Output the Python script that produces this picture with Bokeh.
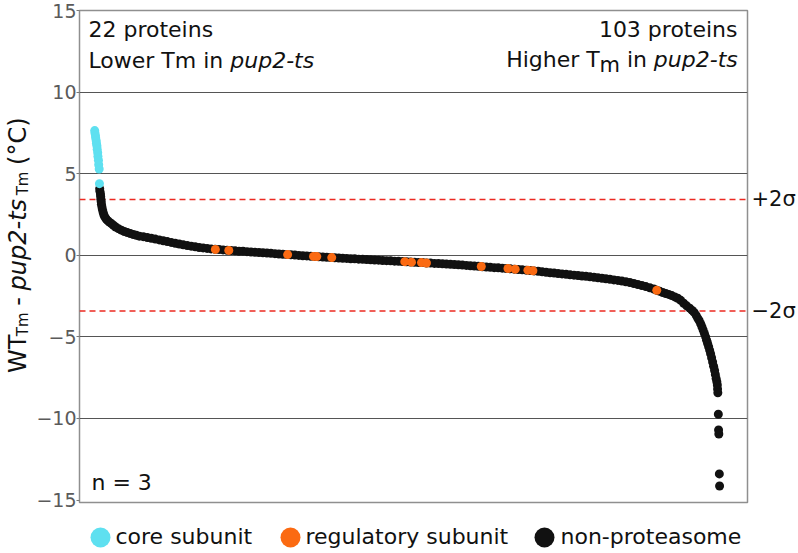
import math
from bokeh.plotting import figure
from bokeh.models import Range1d, FixedTicker, Span, Label, LinearAxis
from bokeh.layouts import column, row
from bokeh.core.properties import value
from bokeh.embed import file_html
from bokeh.resources import INLINE

# ---------------- data (rank of protein, WT Tm - pup2-ts Tm) ----------------
core_rank = [1, 2, 4, 5, 7, 8, 10, 11, 13, 14, 16, 17, 19, 20]
core_dtm = [7.64, 7.50, 7.33, 7.18, 7.02, 6.85, 6.70, 6.50, 6.28, 6.05, 5.82, 5.55, 5.29, 4.39]

reg_rank = [485, 539, 775, 879, 892, 952, 1245, 1272, 1312, 1332, 1552, 1659, 1688, 1739, 1759, 2256]
reg_dtm = [0.36, 0.30, 0.04, -0.07, -0.08, -0.14, -0.39, -0.42, -0.45, -0.47,
           -0.69, -0.81, -0.85, -0.91, -0.95, -2.15]

non_rank_head = [21, 22, 24, 25, 26, 27, 28, 30, 32, 35, 38, 42, 47, 53, 60, 68, 76, 85,
                 96, 108, 120, 132, 144, 156, 168, 180]
non_dtm_head = [4.08, 3.92, 3.76, 3.60, 3.44, 3.28, 3.12, 2.96, 2.80, 2.62, 2.47, 2.34,
                2.22, 2.12, 2.03, 1.94, 1.84, 1.73, 1.63, 1.54, 1.46, 1.39, 1.33, 1.27,
                1.22, 1.17]
non_dtm_mid = [1.14, 1.09, 1.04, 0.99, 0.94, 0.89, 0.84, 0.79, 0.74, 0.69, 0.64, 0.60,
               0.56, 0.52, 0.48, 0.45, 0.42, 0.39, 0.37, 0.35, 0.33, 0.31, 0.29, 0.27,
               0.25, 0.24, 0.22, 0.20, 0.18, 0.17, 0.15, 0.14, 0.12, 0.10, 0.08, 0.06,
               0.04, 0.03, 0.01, -0.01, -0.03, -0.04, -0.06, -0.08, -0.09, -0.11, -0.12,
               -0.14, -0.15, -0.17, -0.18, -0.19, -0.21, -0.22, -0.24, -0.25, -0.26,
               -0.28, -0.29, -0.30, -0.32, -0.33, -0.34, -0.36, -0.37, -0.38, -0.40,
               -0.41, -0.43, -0.44, -0.45, -0.47, -0.48, -0.50, -0.51, -0.52, -0.54,
               -0.55, -0.57, -0.58, -0.60, -0.62, -0.64, -0.66, -0.68, -0.70, -0.72,
               -0.74, -0.76, -0.77, -0.79, -0.81, -0.83, -0.85, -0.87, -0.89, -0.91,
               -0.93, -0.96, -0.98, -1.01, -1.04, -1.07, -1.09, -1.12, -1.14, -1.17,
               -1.19, -1.22, -1.24, -1.27, -1.29, -1.32, -1.35, -1.38, -1.41, -1.44,
               -1.47, -1.51, -1.54, -1.58, -1.62, -1.67, -1.73, -1.79, -1.85, -1.92,
               -1.99, -2.07]
non_rank_mid = [196 + 16 * i for i in range(len(non_dtm_mid))]
non_rank_tail = [2256, 2268, 2280, 2292, 2304, 2316, 2328, 2340, 2352, 2364, 2376, 2388,
                 2398, 2406, 2414, 2420, 2426, 2432, 2437, 2442, 2447, 2452, 2456, 2460,
                 2464, 2468, 2472, 2476, 2480, 2484, 2488, 2491, 2494, 2497, 2499, 2500,
                 2501, 2503, 2504, 2505, 2507, 2508]
non_dtm_tail = [-2.14, -2.21, -2.28, -2.34, -2.40, -2.47, -2.55, -2.63, -2.76, -2.94,
                -3.10, -3.24, -3.38, -3.50, -3.68, -3.85, -4.00, -4.19, -4.38, -4.58,
                -4.79, -5.00, -5.20, -5.40, -5.60, -5.81, -6.03, -6.28, -6.54, -6.80,
                -7.06, -7.30, -7.55, -7.75, -7.95, -8.20, -8.43, -9.74, -10.70, -10.95,
                -13.40, -14.14]
non_rank = non_rank_head + non_rank_mid + non_rank_tail
non_dtm = non_dtm_head + non_dtm_mid + non_dtm_tail

sigma2 = 3.42
y_ticks = [-15, -10, -5, 0, 5, 10, 15]
y_tick_labels = ["\u221215", "\u221210", "\u22125", "0", "5", "10", "15"]
grid_ticks = [-10, -5, 0, 5, 10, 15]
sigma_labels = {sigma2: "+2\u03c3", -sigma2: "\u22122\u03c3"}
legend_names = ["core subunit", "regulatory subunit", "non-proteasome"]

CYAN, ORANGE, BLACK = "#5ee0f0", "#fb6a12", "#111111"
FONT = "DejaVu Sans"
NB = "\u00a0"
BASE_SHIFT = 0.36            # renderer places "alphabetic" text this many em too low

# ---------------- geometry (window pixels) ----------------
TOTW, TOTH = 798, 553
TW = 33                      # width of y-title strip
PH = 513                     # height of main figure
FL, FR, FT, FB = 77, 747, 10, 502
X0, X1 = -60, 2620
Y0, Y1 = -15.15, 15.0


def px2x(wx):
    return X0 + (wx - FL) * (X1 - X0) / (FR - FL)


def px2y(wy):
    return Y1 - (wy - FT) * (Y1 - Y0) / (FB - FT)


ADV = {' ': 0.318, NB: 0.318, '-': 0.361, '0': 0.636, '1': 0.636, '2': 0.636, '3': 0.636,
       'C': 0.698, 'H': 0.752, 'L': 0.557, 'T': 0.611, 'W': 0.989, 'e': 0.615,
       'g': 0.635, 'h': 0.634, 'i': 0.278, 'm': 0.974, 'n': 0.634, 'o': 0.612,
       'p': 0.635, 'r': 0.411, 's': 0.521, 't': 0.392, 'u': 0.634, 'w': 0.818,
       '(': 0.390, ')': 0.390, '\u00b0': 0.500}


def tw(s, size):
    return sum(ADV.get(c, 0.6) for c in s) * size


# ---------------- main plot ----------------
p = figure(width=TOTW - TW, height=PH, x_range=Range1d(X0, X1), y_range=Range1d(Y0, Y1),
           x_axis_location=None, toolbar_location=None, output_backend="svg",
           min_border_left=FL - TW, min_border_right=TOTW - FR, min_border_top=FT,
           min_border_bottom=PH - FB)
p.background_fill_color = "white"
p.border_fill_color = "white"
p.outline_line_color = "#8f8f8f"
p.outline_line_width = 1.5
p.xgrid.visible = False
p.ygrid.ticker = FixedTicker(ticks=grid_ticks)
p.ygrid.grid_line_color = "#555555"
p.ygrid.grid_line_width = 1

ax = p.yaxis[0]
ax.ticker = FixedTicker(ticks=y_ticks)
ax.major_label_overrides = {t: l for t, l in zip(y_ticks, y_tick_labels)}
ax.major_label_text_font = FONT
ax.major_label_text_font_size = "19px"
ax.major_label_text_color = "#5a5a5a"
ax.axis_line_color = None
ax.major_tick_line_color = "#777777"
ax.major_tick_out = 3
ax.major_tick_in = 0
ax.minor_tick_line_color = None
ax.major_label_standoff = 0

rax = LinearAxis(ticker=FixedTicker(ticks=list(sigma_labels.keys())),
                 major_label_overrides=sigma_labels)
rax.major_label_text_font = FONT
rax.major_label_text_font_size = "21px"
rax.major_label_text_color = BLACK
rax.axis_line_color = None
rax.major_tick_line_color = None
rax.minor_tick_line_color = None
rax.major_tick_out = 0
rax.major_tick_in = 0
rax.major_label_standoff = 4
p.add_layout(rax, "right")

for loc in (sigma2, -sigma2):
    p.add_layout(Span(location=loc, dimension="width", line_color="#ec2a22",
                      line_dash="6 4", line_width=1.5, level="underlay"))

p.scatter(non_rank, non_dtm, size=9, fill_color=BLACK, line_color=None)
p.scatter(reg_rank, reg_dtm, size=9, fill_color=ORANGE, line_color=None)
p.scatter(core_rank, core_dtm, size=9, fill_color=CYAN, line_color=None)


def lab(text, wx, wy, size, style="normal", align="left"):
    p.add_layout(Label(x=px2x(wx), y=px2y(wy - BASE_SHIFT * size), text=text, text_font=FONT,
                       text_font_size=f"{size}px", text_font_style=style,
                       text_align=align, text_baseline="alphabetic", text_color=BLACK))


def pieces_h(pieces, wx, wy, right=False):
    total = sum(tw(t, s) for t, s, st, dy in pieces)
    x = wx - total if right else wx
    for t, s, st, dy in pieces:
        lab(t, x, wy + dy, s, st)
        x += tw(t, s)


lab("22 proteins", 86, 37, 22)
pieces_h([("Lower Tm in" + NB, 22, "normal", 0), ("pup2-ts", 22, "italic", 0)], 86, 68)
lab("103 proteins", 737, 37, 22, align="right")
pieces_h([("Higher T", 22, "normal", 0), ("m", 21, "normal", 5),
          (NB + "in" + NB, 22, "normal", 0), ("pup2-ts", 22, "italic", 0)], 737, 67, right=True)
lab("n = 3", 89, 490, 22)

# ---------------- y-axis title strip ----------------
t = figure(width=TW, height=PH, x_range=Range1d(0, TW), y_range=Range1d(0, PH),
           x_axis_location=None, y_axis_location=None, toolbar_location=None,
           output_backend="svg", min_border=0)
t.outline_line_color = None
t.xgrid.visible = False
t.ygrid.visible = False
ylab = [("WT", 24, "normal", 0), ("Tm", 15, "normal", 2), (NB + "-" + NB, 24, "normal", 0),
        ("pup2-ts", 24, "italic", 0), (NB, 24, "normal", 0), ("Tm", 15, "normal", 2),
        (NB + "(\u00b0C)", 24, "normal", 0)]
wy = 378
for txt, s, st, dx in ylab:
    t.text(x=[26 + dx - BASE_SHIFT * s], y=[PH - wy], text=[txt], angle=math.pi / 2,
           text_font=value(FONT), text_font_size=value(f"{s}px"),
           text_font_style=st, text_align="left", text_baseline="alphabetic",
           text_color=BLACK)
    wy -= tw(txt, s)

# ---------------- legend strip ----------------
LH = TOTH - PH
leg = figure(width=TOTW, height=LH, x_range=Range1d(0, TOTW), y_range=Range1d(0, LH),
             x_axis_location=None, y_axis_location=None, toolbar_location=None,
             output_backend="svg", min_border=0)
leg.outline_line_color = None
leg.xgrid.visible = False
leg.ygrid.visible = False
leg_cx = [100, 290, 544]
leg_tx = [115, 305, 560]
leg.scatter(leg_cx, [TOTH - 537] * 3, size=20, fill_color=[CYAN, ORANGE, BLACK], line_color=None)
leg.text(leg_tx, [TOTH - (544 - BASE_SHIFT * 22)] * 3, text=legend_names, text_font=value(FONT),
         text_font_size=value("22px"), text_baseline="alphabetic", text_align="left",
         text_color=BLACK)

layout = column(row(t, p, spacing=0), leg, spacing=0)
open("out.html", "w").write(file_html(layout, INLINE))
